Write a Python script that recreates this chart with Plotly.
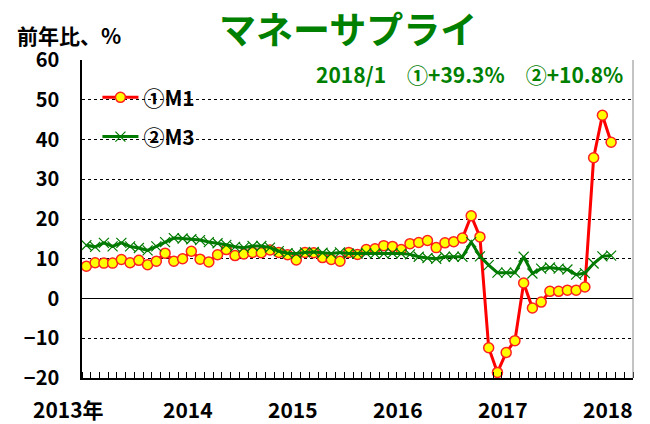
import plotly.graph_objects as go

# Monthly categories 2013/1 .. 2018/1
months = [f"{y}/{m}" for y in range(2013, 2019) for m in range(1, 13)][:61]

m1 = [8.1, 9.0, 8.9, 8.9, 9.8, 9.0, 9.6, 8.5, 9.4, 11.4, 9.4, 10.0,
      11.9, 9.9, 9.2, 11.0, 12.3, 10.8, 11.2, 11.6, 11.5, 12.2, 11.6, 11.0,
      9.7, 11.6, 11.5, 10.3, 9.8, 9.4, 11.6, 11.1, 12.3, 12.5, 13.3, 13.1,
      12.3, 13.8, 14.1, 14.6, 12.8, 14.0, 14.3, 15.2, 20.8, 15.5, -12.4, -18.6,
      -13.6, -10.6, 3.9, -2.4, -0.9, 1.8, 1.8, 2.1, 2.1, 2.9, 35.4, 46.1, 39.3]

m3 = [13.4, 13.0, 14.0, 13.1, 14.0, 13.1, 12.7, 12.1, 13.1, 14.2, 15.2, 15.1,
      14.9, 14.7, 14.2, 13.9, 13.5, 13.0, 12.8, 13.2, 13.2, 12.8, 11.9, 11.4,
      11.3, 11.6, 11.7, 11.5, 11.3, 11.6, 11.3, 11.3, 11.4, 11.3, 11.3, 11.4,
      11.3, 11.1, 10.5, 10.2, 10.0, 10.5, 10.5, 10.5, 14.2, 10.6, 8.4, 6.5,
      6.5, 6.5, 10.5, 6.3, 7.5, 7.8, 7.5, 7.3, 6.0, 6.4, 8.8, 10.6, 10.8]

year_labels = ["2013年", "2014", "2015", "2016", "2017", "2018"]
year_months = ["2013/1", "2014/1", "2015/1", "2016/1", "2017/1", "2018/1"]
y_ticks = [60, 50, 40, 30, 20, 10, 0, -10, -20]
y_ticktext = ["60", "50", "40", "30", "20", "10", "0", "\u221210", "\u221220"]

FONT = "Noto Sans CJK JP"
GREEN = "#008000"

x_idx = list(range(len(months)))

fig = go.Figure()
fig.add_trace(go.Scatter(
    x=x_idx, y=m1, mode="lines+markers", name="<b>①M1</b>",
    line=dict(color="#ff0000", width=3),
    marker=dict(symbol="circle", size=10, color="#ffff00",
                line=dict(color="#ff2020", width=1.5)),
    legendgroup="a",
))
fig.add_trace(go.Scatter(
    x=x_idx, y=m3, mode="lines+markers", name="<b>②M3</b>",
    line=dict(color="#007a00", width=3),
    marker=dict(symbol="x-thin-open", size=10,
                line=dict(color="#2e9a2e", width=1.2)),
    legendgroup="b",
))

ann = []
for lab, mo in zip(year_labels, year_months):
    i = months.index(mo)
    ann.append(dict(x=i, y=0, xref="x", yref="paper", yanchor="top",
                    yshift=-14, xshift=(-18 if "年" in lab else -3),
                    text=f"<b>{lab}</b>", showarrow=False,
                    font=dict(family=FONT, size=21, color="black")))

ann.append(dict(x=0.483, y=1.0, xref="paper", yref="paper", yanchor="bottom",
                yshift=3, text="<b>マネーサプライ</b>", showarrow=False,
                font=dict(family=FONT, size=37, color=GREEN)))
ann.append(dict(x=-0.122, y=1.0, xref="paper", yref="paper", xanchor="left",
                yanchor="bottom", yshift=8, text="<b>前年比、%</b>", showarrow=False,
                font=dict(family=FONT, size=21, color="black")))
ann.append(dict(x=0.985, y=0.955, xref="paper", yref="paper", xanchor="right",
                yanchor="middle",
                text=f"<b>{months[-1]}\u3000①+{m1[-1]:.1f}%\u3000②+{m3[-1]:.1f}%</b>",
                showarrow=False, font=dict(family=FONT, size=21, color=GREEN)))

fig.update_layout(
    width=642, height=416,
    margin=dict(l=74, r=17, t=52, b=46, autoexpand=False),
    paper_bgcolor="white", plot_bgcolor="white",
    showlegend=True,
    legend=dict(x=0.028, y=0.946, xanchor="left", yanchor="top",
                font=dict(family=FONT, size=21, color="black"),
                bgcolor="rgba(0,0,0,0)", traceorder="grouped",
                tracegroupgap=9, itemwidth=36),
    annotations=ann,
    font=dict(family=FONT),
)
fig.update_xaxes(
    range=[-0.5, 62.5], showgrid=False, zeroline=False, automargin=False,
    showline=True, linecolor="black", linewidth=1.5,
    tickvals=[], showticklabels=False,
    minor=dict(tickmode="linear", tick0=-0.5, dtick=1, ticks="inside",
               ticklen=6, tickcolor="black", tickwidth=1, showgrid=False),
)
fig.update_yaxes(
    range=[-20, 60], tickvals=y_ticks, ticktext=[f"<b>{t}</b>" for t in y_ticktext],
    tickfont=dict(family=FONT, size=20, color="black"), automargin=False,
    showgrid=True, gridcolor="black", griddash="dot", gridwidth=1,
    zeroline=True, zerolinecolor="black", zerolinewidth=1,
    showline=True, linecolor="black", linewidth=1.5, mirror=False,
    ticks="outside", ticklen=0, ticklabelstandoff=17,
)
fig.add_shape(type="line", xref="paper", yref="paper", x0=1, x1=1, y0=0, y1=1,
              line=dict(color="#888888", width=1))

fig.write_html("out.html")
